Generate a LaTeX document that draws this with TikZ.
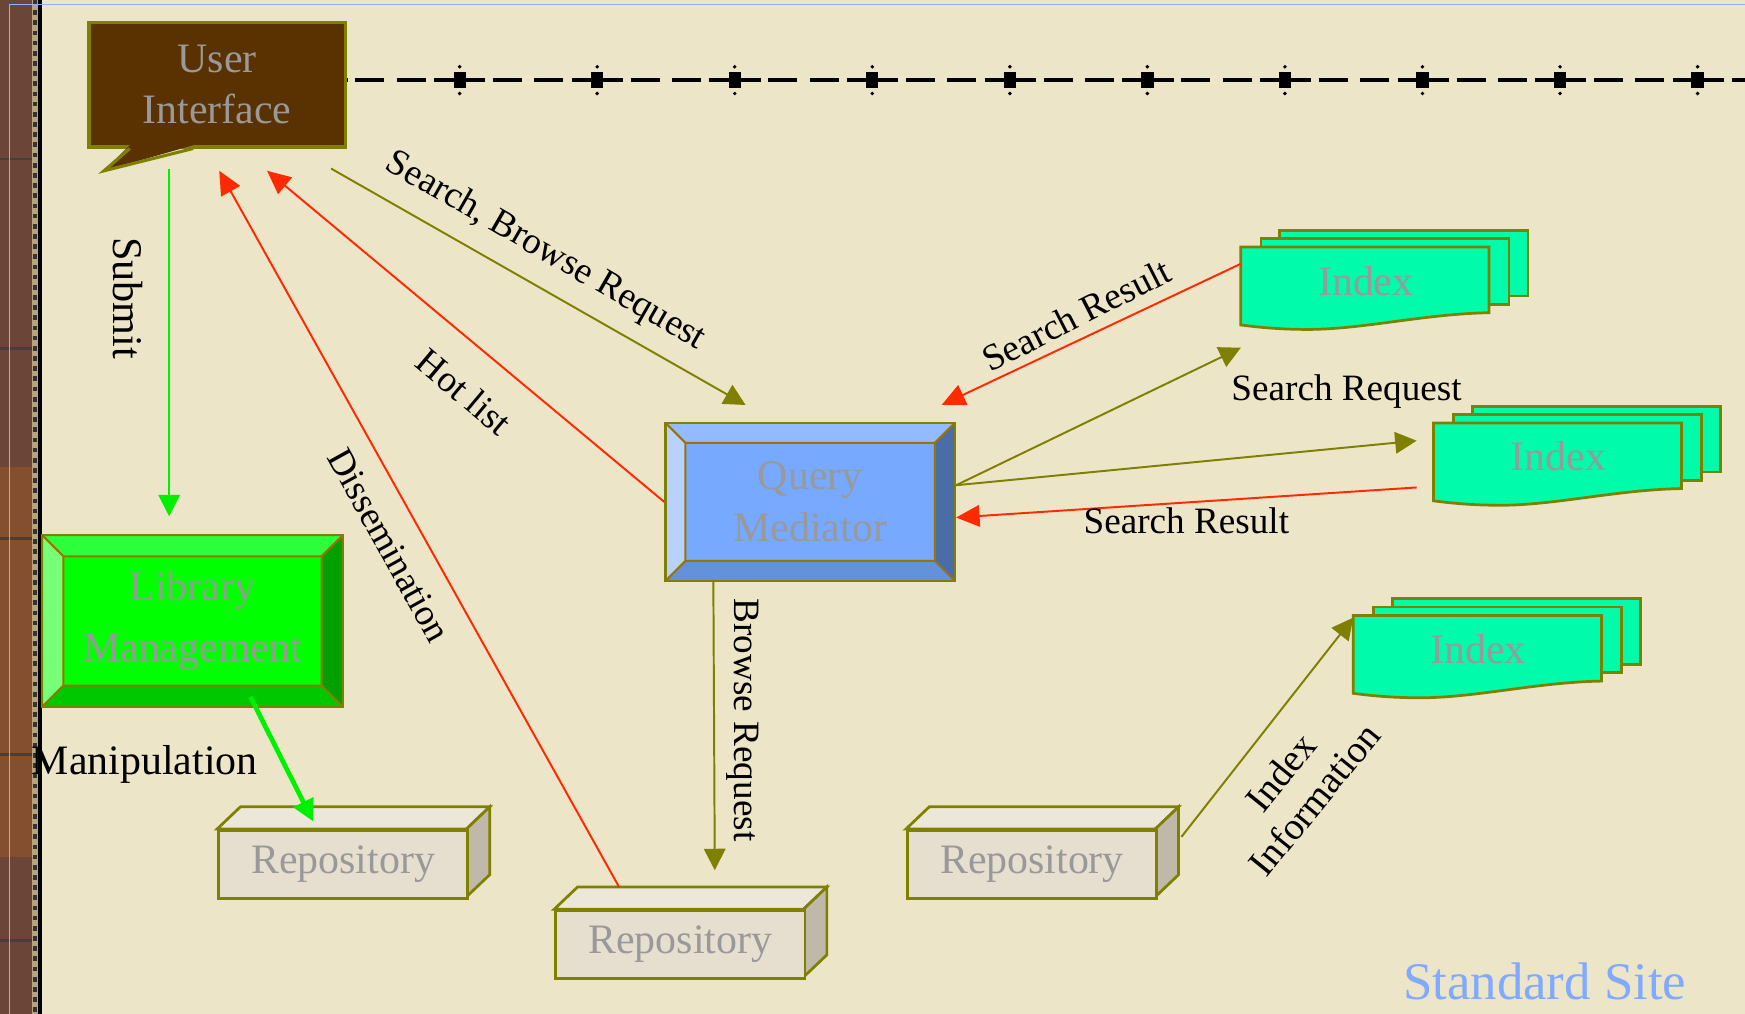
\documentclass[tikz,border=0pt]{standalone}
\usepackage{fontspec}
\setmainfont{Liberation Serif}
\usetikzlibrary{arrows.meta}

\definecolor{paper}{HTML}{EDE5C8}
\definecolor{stripbrown}{HTML}{6B4538}
\definecolor{beadlight}{HTML}{B8A47C}
\definecolor{framblue}{HTML}{8AB2FF}
\definecolor{lineolive}{HTML}{808000}
\definecolor{bevelline}{HTML}{9A7400}
\definecolor{uibrown}{HTML}{5A3100}
\definecolor{boxtext}{HTML}{999999}
\definecolor{arrred}{HTML}{FF2A00}
\definecolor{arrgreen}{HTML}{00F000}
\definecolor{idxgreen}{HTML}{00FBAA}
\definecolor{sitebl}{HTML}{7FAAFF}
\definecolor{repofront}{HTML}{E6DFD0}
\definecolor{repotop}{HTML}{EDE7DA}
\definecolor{reposide}{HTML}{C0B8A8}
\definecolor{lmcenter}{HTML}{00FF00}
\definecolor{lmtop}{HTML}{2CFF3C}
\definecolor{lmleft}{HTML}{78FF78}
\definecolor{lmright}{HTML}{00A000}
\definecolor{lmbottom}{HTML}{00C800}
\definecolor{qmcenter}{HTML}{76A9FF}
\definecolor{qmtop}{HTML}{94BBFF}
\definecolor{qmleft}{HTML}{B8D1FF}
\definecolor{qmright}{HTML}{4A6DA8}
\definecolor{qmbottom}{HTML}{6391DB}

\tikzset{
  boxfont/.style={font=\fontsize{10.7}{13.2}\selectfont},
  lblfont/.style={font=\fontsize{9.5}{11}\selectfont},
  lblbig/.style={font=\fontsize{10.8}{12}\selectfont},
  uibox/.style={draw=lineolive, line width=0.8pt, fill=uibrown, text=boxtext, align=center,
    minimum width=2.30cm, minimum height=1.12cm, boxfont},
  bevelbox/.style n args={6}{draw=lineolive, line width=0.6pt, fill=#1, text=boxtext, align=center,
    path picture={
      \path (path picture bounding box.north west) coordinate (bnw)
            (path picture bounding box.north east) coordinate (bne)
            (path picture bounding box.south west) coordinate (bsw)
            (path picture bounding box.south east) coordinate (bse);
      \filldraw[fill=#2, draw=bevelline, line width=0.5pt] (bnw) -- (bne) -- ([shift={(-#6,-#6)}]bne) -- ([shift={(#6,-#6)}]bnw) -- cycle;
      \filldraw[fill=#3, draw=bevelline, line width=0.5pt] (bnw) -- ([shift={(#6,-#6)}]bnw) -- ([shift={(#6,#6)}]bsw) -- (bsw) -- cycle;
      \filldraw[fill=#4, draw=bevelline, line width=0.5pt] (bne) -- (bse) -- ([shift={(-#6,#6)}]bse) -- ([shift={(-#6,-#6)}]bne) -- cycle;
      \filldraw[fill=#5, draw=bevelline, line width=0.5pt] (bsw) -- ([shift={(#6,#6)}]bsw) -- ([shift={(-#6,#6)}]bse) -- (bse) -- cycle;
    }},
  idxsheet/.style={fill=idxgreen, draw=lineolive, line width=0.7pt},
  repobox/.style={fill=repofront, draw=lineolive, line width=0.7pt, text=boxtext,
    minimum width=2.24cm, minimum height=0.61cm, boxfont},
  repotopst/.style={fill=repotop, draw=lineolive, line width=0.7pt},
  reposidest/.style={fill=reposide, draw=lineolive, line width=0.7pt},
  redarrow/.style={draw=arrred, line width=0.5pt, -{Triangle[length=6pt,width=5.5pt]}},
  olivearrow/.style={draw=lineolive, line width=0.5pt, -{Triangle[length=5.5pt,width=5.5pt]}},
  greenarrow/.style={draw=arrgreen, line width=0.5pt, -{Triangle[length=5.5pt,width=5.5pt]}},
}

\begin{document}
\begin{tikzpicture}[x=0.01cm, y=-0.01cm, every node/.style={inner sep=0pt}]
  \useasboundingbox (0,0) rectangle (1568,911);

  % paper and left frame
  \fill[paper] (0,0) rectangle (1568,911);
  \fill[stripbrown] (0,0) rectangle (29,911);
  \fill[orange!50!stripbrown, opacity=0.35] (0,420) rectangle (29,770);
  \foreach \ly in {143,313,484,678,845}
    \draw[black!75, line width=0.6pt] (0,\ly) -- (29,\ly);
  \fill[beadlight] (29,0) rectangle (34,911);
  \draw[black!80, line width=1.2pt, dash pattern=on 1.2pt off 1.4pt] (31.5,0) -- (31.5,911);
  \fill[black] (34,0) rectangle (38,911);
  \draw[framblue, line width=0.4pt] (8.5,911) -- (8.5,4) -- (1568,4);

  % timeline
  \draw[line width=1pt, dash pattern=on 13.09pt off 1.99pt on 7.4pt off 3.13pt on 7.4pt off 2.16pt]
    (266.4,72) -- (1568,72);
  \foreach \k in {0,...,9} {
    \fill (413+123.6*\k-5.5,65) rectangle ++(11,14);
    \fill (413+123.6*\k,60) circle[radius=0.5pt];
    \fill (413+123.6*\k,84) circle[radius=0.5pt];
  }

  % boxes
  \node[uibox] (ui) at (195,76) {User\\Interface};
  \fill[uibrown] ([xshift=0.38cm,yshift=0.03cm]ui.south west) -- ([xshift=0.15cm,yshift=-0.20cm]ui.south west)
    -- ([xshift=0.95cm,yshift=0.03cm]ui.south west) -- cycle;
  \draw[lineolive, line width=0.8pt] ([xshift=0.38cm]ui.south west) -- ([xshift=0.15cm,yshift=-0.20cm]ui.south west)
    -- ([xshift=0.95cm]ui.south west);

  \node[bevelbox={lmcenter}{lmtop}{lmleft}{lmright}{lmbottom}{0.19cm}, minimum width=2.70cm, minimum height=1.54cm,
    font=\fontsize{10.7}{15.6}\selectfont] (lm) at (173,558) {Library\\Management};
  \node[bevelbox={qmcenter}{qmtop}{qmleft}{qmright}{qmbottom}{0.18cm}, minimum width=2.60cm, minimum height=1.42cm,
    boxfont] (qm) at (728,451) {Query\\Mediator};

  \foreach \nm/\px/\py in {idxa/1115/222, idxb/1288/380, idxc/1216/553} {
    \filldraw[idxsheet] (\px+35,\py-15) rectangle ++(223,59);
    \filldraw[idxsheet] (\px+18,\py-7.5) rectangle ++(223,59);
    \filldraw[idxsheet] (\px,\py) -- (\px+223,\py) -- (\px+223,\py+59)
      .. controls (\px+165,\py+60) and (\px+110,\py+74) .. (\px+60,\py+74)
      .. controls (\px+35,\py+74) and (\px+15,\py+72) .. (\px,\py+70) -- cycle;
    \node[anchor=north west, minimum width=2.23cm, minimum height=0.59cm, boxfont, text=boxtext]
      (\nm) at (\px,\py) {Index};
  }

  \foreach \nm/\px/\py in {repa/195/745, repb/498/817, repc/814/745} {
    \filldraw[repotopst] (\px,\py) -- (\px+21,\py-20) -- (\px+245,\py-20) -- (\px+224,\py) -- cycle;
    \filldraw[reposidest] (\px+224,\py) -- (\px+245,\py-20) -- (\px+245,\py+41) -- (\px+224,\py+61) -- cycle;
    \node[repobox, anchor=north west] (\nm) at (\px,\py) {Repository};
  }

  % connectors
  \draw[greenarrow] ([shift={(-43,18)}]ui.south) -- ([shift={(-21,-16)}]lm.north);
  \draw[olivearrow] ([shift={(-14,18)}]ui.south east) -- ([shift={(-58,-15)}]qm.north);
  \draw[redarrow] (qm.west) -- ([shift={(45,20)}]ui.south);
  \draw[redarrow] ([shift={(-55,-20)}]repb.north) -- ([shift={(2,20)}]ui.south);
  \draw[greenarrow, line width=1.2pt] ([shift={(52,-10)}]lm.south) -- ([shift={(-27,-7)}]repa.north);
  \draw[olivearrow] ([shift={(-87,0)}]qm.south) -- ([shift={(31,-35)}]repb.north);
  \draw[redarrow] ([shift={(0,15)}]idxa.north west) -- ([shift={(-13,-15)}]qm.north east);
  \draw[olivearrow] ([shift={(0,-15)}]qm.east) -- ([shift={(0,30)}]idxa.south west);
  \draw[olivearrow] ([shift={(0,-15)}]qm.east) -- ([shift={(-15,16)}]idxb.north west);
  \draw[redarrow] ([shift={(-15,58)}]idxb.north west) -- ([shift={(0,14)}]qm.east);
  \draw[olivearrow] ([shift={(21,7)}]repc.north east) -- ([shift={(0,2)}]idxc.north west);

  % labels
  \node[lblbig, rotate=-90] (submit) at (115,268) {Submit};
  \node[lblfont, rotate=-30] (sbreq) at (490,226) {Search, Browse Request};
  \node[lblfont, rotate=-40] (hotlist) at (417,352) {Hot list};
  \node[lblfont, rotate=-61] (dissem) at (350,490) {Dissemination};
  \node[boxfont] (manip) at (130,687) {Manipulation};
  \node[lblfont, rotate=-90] (brreq) at (667,647) {Browse Request};
  \node[lblfont, rotate=27] (sresa) at (967,283) {Search Result};
  \node[lblfont] (sreq) at (1210,352) {Search Request};
  \node[lblfont] (sresb) at (1066,468) {Search Result};
  \node[font=\fontsize{9.8}{11}\selectfont, align=center, rotate=51] (idxinfo) at (1166,706) {Index\\Information};
  \node[font=\fontsize{13.5}{15}\selectfont, text=sitebl] (site) at (1388,882) {Standard Site};
\end{tikzpicture}
\end{document}
